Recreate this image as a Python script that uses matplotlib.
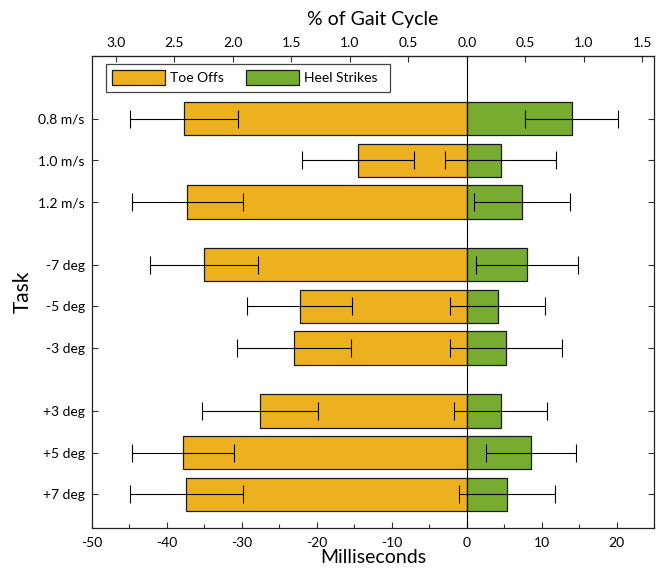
#!/usr/bin/env python3
"""
Timing offsets of toe offs and heel strikes per walking task,
in milliseconds (bottom) and percent of gait cycle (top).
"""

import matplotlib
matplotlib.use('Agg')
import matplotlib.pyplot as plt
from matplotlib.ticker import FuncFormatter, MultipleLocator
from matplotlib.patches import Patch

# --- data ---
tasks = ['0.8 m/s', '1.0 m/s', '1.2 m/s',
         '-7 deg', '-5 deg', '-3 deg',
         '+3 deg', '+5 deg', '+7 deg']
task_pos = [0, 1, 2, 3.5, 4.5, 5.5, 7, 8, 9]

toe_offs = [-37.7, -14.5, -37.3, -35.1, -22.3, -23.1, -27.6, -37.8, -37.4]
toe_offs_err = [7.2, 7.5, 7.4, 7.2, 7.0, 7.6, 7.7, 6.8, 7.5]

heel_strikes = [14.0, 4.5, 7.3, 8.0, 4.1, 5.2, 4.5, 8.6, 5.3]
heel_strikes_err = [6.2, 7.4, 6.4, 6.8, 6.3, 7.5, 6.2, 6.0, 6.4]

gait_cycle_ms = 15.6   # ms per 1 % of gait cycle
pct_ticks = [-3.0, -2.5, -2.0, -1.5, -1.0, -0.5, 0.0, 0.5, 1.0, 1.5]

TOE_COLOR = '#EDB120'
HEEL_COLOR = '#77AC30'

plt.rcParams['font.family'] = ['Lato', 'DejaVu Sans']
plt.rcParams['axes.unicode_minus'] = False


def main():
    fig = plt.figure(figsize=(6.57, 5.69), dpi=100)
    ax = fig.add_axes([0.1397, 0.0726, 0.8562, 0.829])

    bar_kw = dict(height=0.8, edgecolor='#1a1a1a', linewidth=0.9, zorder=2)
    ax.barh(task_pos, toe_offs, color=TOE_COLOR, **bar_kw)
    ax.barh(task_pos, heel_strikes, color=HEEL_COLOR, **bar_kw)

    ax.axvline(0, color='black', linewidth=0.8, zorder=3)

    err_kw = dict(fmt='none', ecolor='black', elinewidth=0.8,
                  capsize=6.5, capthick=0.8, zorder=4)
    ax.errorbar(toe_offs, task_pos, xerr=toe_offs_err, **err_kw)
    ax.errorbar(heel_strikes, task_pos, xerr=heel_strikes_err, **err_kw)

    ax.set_xlim(-50, 25)
    ax.set_ylim(9.8, -1.5)
    ax.set_yticks(task_pos)
    ax.set_yticklabels(tasks)
    ax.xaxis.set_major_locator(MultipleLocator(10))
    ax.xaxis.set_minor_locator(MultipleLocator(5))
    ax.tick_params(axis='both', which='both', direction='in',
                   labelsize=10, width=0.8, color='#333333')
    ax.tick_params(axis='both', which='major', length=4)
    ax.tick_params(axis='x', which='minor', length=3)
    ax.tick_params(axis='y', right=True, pad=5)
    ax.tick_params(axis='x', pad=7)
    for spine in ax.spines.values():
        spine.set_linewidth(0.9)
        spine.set_color('#222222')

    ax.set_xlabel('Milliseconds', fontsize=14, labelpad=0)
    ax.set_ylabel('Task', fontsize=15, labelpad=4)

    # top axis in percent of gait cycle
    top = ax.secondary_xaxis('top', functions=(lambda x: x / gait_cycle_ms,
                                               lambda p: p * gait_cycle_ms))
    top.set_xticks(pct_ticks)
    top.xaxis.set_major_formatter(FuncFormatter(lambda v, _: f'{abs(v):.1f}'))
    top.tick_params(direction='in', length=4, width=0.8, labelsize=10,
                    color='#333333', pad=5)
    top.set_xlabel('% of Gait Cycle', fontsize=14, labelpad=9)

    handles = [Patch(facecolor=TOE_COLOR, edgecolor='#1a1a1a', linewidth=0.9),
               Patch(facecolor=HEEL_COLOR, edgecolor='#1a1a1a', linewidth=0.9)]
    leg = ax.legend(handles, ['Toe Offs', 'Heel Strikes  '], ncol=2,
                    loc='upper left', bbox_to_anchor=(106 / 657, 1 - 64 / 569),
                    bbox_transform=fig.transFigure, borderaxespad=0,
                    fontsize=10, handlelength=3.8, handleheight=1.3,
                    handletextpad=0.35, columnspacing=1.6,
                    borderpad=0.45, fancybox=False, framealpha=1)
    leg.get_frame().set_edgecolor('#444444')
    leg.get_frame().set_linewidth(0.9)

    fig.savefig('out.png', dpi=100)


if __name__ == '__main__':
    main()
